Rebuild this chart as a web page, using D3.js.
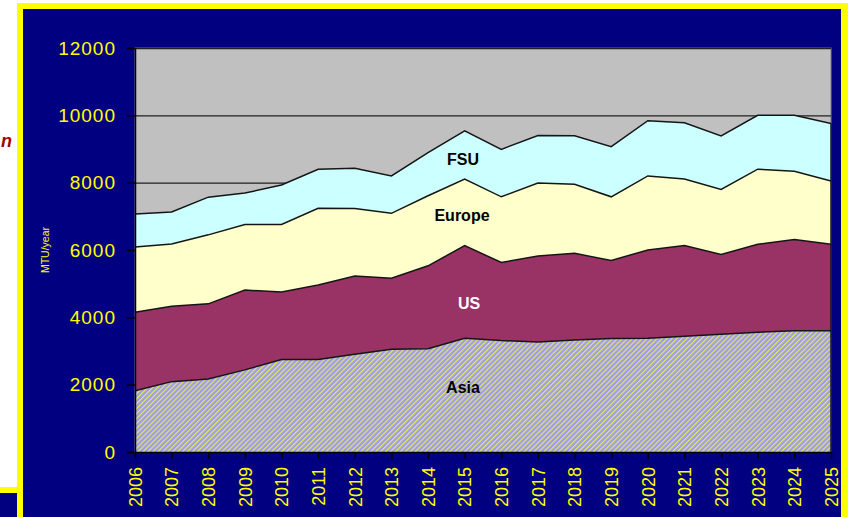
<!DOCTYPE html>
<html>
<head>
<meta charset="utf-8">
<script src="https://cdn.jsdelivr.net/npm/d3@7"></script>
<style>
  body { margin: 0; background: #fff; }
  svg { display: block; }
</style>
</head>
<body>
<div id="mtuChart"></div>
<script>

/*******************************************************************************
*** STACKED AREA CHART *********************************************************
*******************************************************************************/

let years = [2006, 2007, 2008, 2009, 2010, 2011, 2012, 2013, 2014, 2015,
             2016, 2017, 2018, 2019, 2020, 2021, 2022, 2023, 2024, 2025];

let asia   = [1820, 2090, 2170, 2440, 2750, 2750, 2900, 3050, 3070, 3380,
              3310, 3270, 3330, 3370, 3380, 3440, 3500, 3560, 3600, 3600];
let us     = [2330, 2240, 2230, 2370, 2000, 2210, 2330, 2110, 2460, 2750,
              2320, 2550, 2570, 2320, 2620, 2690, 2370, 2610, 2710, 2570];
let europe = [1940, 1850, 2050, 1950, 2010, 2280, 2000, 1930, 2080, 1980,
              1950, 2170, 2050, 1890, 2200, 1980, 1930, 2230, 2030, 1880];
let fsu    = [ 980,  950, 1120,  930, 1170, 1160, 1200, 1110, 1280, 1430,
              1410, 1410, 1440, 1490, 1640, 1670, 1590, 1600, 1660, 1710];

let seriesNames = ["Asia", "US", "Europe", "FSU"];
let yTicks = [0, 2000, 4000, 6000, 8000, 10000, 12000];

function colorByLabel(label) {
  switch(label) {
    case "Asia":   return "url(#asiaHatch)";
    case "US":     return "#993366";
    case "Europe": return "#FFFFCC";
    case "FSU":    return "#CCFFFF";
  }
}

let table = years.map(function(yr, i) {
  return { year: yr, Asia: asia[i], US: us[i], Europe: europe[i], FSU: fsu[i] };
});

let
  width = 850,
  height = 517,
  margin = {top: 48, right: 19, bottom: 65, left: 135},
  plotW = width - margin.left - margin.right,
  plotH = height - margin.top - margin.bottom
  ;

let svg = d3.select("#mtuChart")
            .append("svg")
            .attr("width", width)
            .attr("height", height);

/* hatch for the Asia band */
let pat = svg.append("defs").append("pattern")
             .attr("id", "asiaHatch")
             .attr("patternUnits", "userSpaceOnUse")
             .attr("width", 3.5)
             .attr("height", 3.5)
             .attr("patternTransform", "rotate(45)");
pat.append("rect").attr("width", 3.5).attr("height", 3.5).attr("fill", "#9C9CF2");
pat.append("rect").attr("width", 1.2).attr("height", 3.5).attr("fill", "#E8E85A");

/* page frame */
svg.append("rect").attr("width", width).attr("height", height).attr("fill", "#fff");
svg.append("rect").attr("x", 17).attr("y", 3).attr("width", 831).attr("height", 520).attr("fill", "#FFFF00");
svg.append("rect").attr("x", 23).attr("y", 9).attr("width", 818).attr("height", 520).attr("fill", "#000080");
svg.append("rect").attr("x", 0).attr("y", 487).attr("width", 17).attr("height", 6).attr("fill", "#FFFF00");
svg.append("rect").attr("x", 0).attr("y", 493).attr("width", 17).attr("height", 30).attr("fill", "#000080");

svg.append("text")
   .text("n")
   .attr("x", 1)
   .attr("y", 147)
   .style("font-family", "Liberation Sans, Arial, sans-serif")
   .style("font-size", "18px")
   .style("font-weight", "bold")
   .style("font-style", "italic")
   .attr("fill", "#A00000");

let g = svg.append("g")
           .attr("transform", "translate(" + margin.left + "," + margin.top + ")");

let x = d3.scaleLinear().domain([years[0], years[years.length - 1]]).range([0, plotW]);
let y = d3.scaleLinear().domain([0, 12000]).range([plotH, 0]);

/* plot background + gridlines */
g.append("rect")
 .attr("width", plotW)
 .attr("height", plotH)
 .attr("fill", "#C0C0C0")
 .attr("stroke", "#808080");

g.selectAll(".grid")
 .data(yTicks.slice(1))
 .enter().append("line")
 .attr("class", "grid")
 .attr("x1", 0).attr("x2", plotW)
 .attr("y1", function(d) { return y(d) + 0.5; })
 .attr("y2", function(d) { return y(d) + 0.5; })
 .attr("stroke", "#202020")
 .attr("stroke-width", 1.3);

/* stacked areas */
let stacked = d3.stack().keys(seriesNames)(table);

let area = d3.area()
             .x(function(d) { return x(d.data.year); })
             .y0(function(d) { return y(d[0]); })
             .y1(function(d) { return y(d[1]); });

let topLine = d3.line()
                .x(function(d) { return x(d.data.year); })
                .y(function(d) { return y(d[1]); });

g.selectAll(".band")
 .data(stacked)
 .enter().append("path")
 .attr("class", "band")
 .attr("fill", function(d) { return colorByLabel(d.key); })
 .attr("d", area);

g.selectAll(".edge")
 .data(stacked)
 .enter().append("path")
 .attr("class", "edge")
 .attr("fill", "none")
 .attr("stroke", "#151515")
 .attr("stroke-width", 1.5)
 .attr("d", topLine);

/* right edge of the filled part */
g.append("line")
 .attr("x1", plotW).attr("x2", plotW)
 .attr("y1", y(d3.sum(seriesNames, function(k) { return table[table.length - 1][k]; })))
 .attr("y2", plotH)
 .attr("stroke", "#151515")
 .attr("stroke-width", 1.5);

/* band labels */
let bandLabels = [
  {name: "FSU",    cx: 463, cy: 165, color: "#000"},
  {name: "Europe", cx: 462, cy: 221, color: "#000"},
  {name: "US",     cx: 469, cy: 309, color: "#fff"},
  {name: "Asia",   cx: 463, cy: 393, color: "#000"}
];

svg.selectAll(".bandLabel")
   .data(bandLabels)
   .enter().append("text")
   .attr("class", "bandLabel")
   .attr("x", function(d) { return d.cx; })
   .attr("y", function(d) { return d.cy; })
   .attr("text-anchor", "middle")
   .style("font-family", "Liberation Sans, Arial, sans-serif")
   .style("font-size", "16px")
   .style("font-weight", "bold")
   .attr("fill", function(d) { return d.color; })
   .text(function(d) { return d.name; });

/* axes */
let yAxis = g.append("g")
             .call(d3.axisLeft(y).tickValues(yTicks).tickFormat(d3.format("d"))
                     .tickSize(8).tickPadding(11).tickSizeOuter(0));

let xAxis = g.append("g")
             .attr("transform", "translate(0," + plotH + ")")
             .call(d3.axisBottom(x).tickValues(years).tickFormat(d3.format("d")).tickSize(7).tickSizeOuter(0));

[yAxis, xAxis].forEach(function(ax) {
  ax.select(".domain").attr("stroke", "#000").attr("stroke-width", 1.5);
  ax.selectAll(".tick line").attr("stroke", "#000").attr("stroke-width", 1.5);
  ax.selectAll("text")
    .attr("fill", "#FFFF00")
    .style("font-family", "Liberation Sans, Arial, sans-serif");
});

yAxis.selectAll("text").style("font-size", "19px").style("letter-spacing", "1px");

xAxis.selectAll("text")
     .style("font-size", "18px")
     .attr("transform", "rotate(-90)")
     .attr("x", -15)
     .attr("y", 0)
     .attr("dy", "0.35em")
     .style("text-anchor", "end");

svg.append("text")
   .text("MTU/year")
   .attr("transform", "translate(49,250) rotate(-90)")
   .attr("text-anchor", "middle")
   .style("font-family", "Liberation Sans, Arial, sans-serif")
   .style("font-size", "10.5px")
   .attr("fill", "#FFFF00");

</script>
</body>
</html>
